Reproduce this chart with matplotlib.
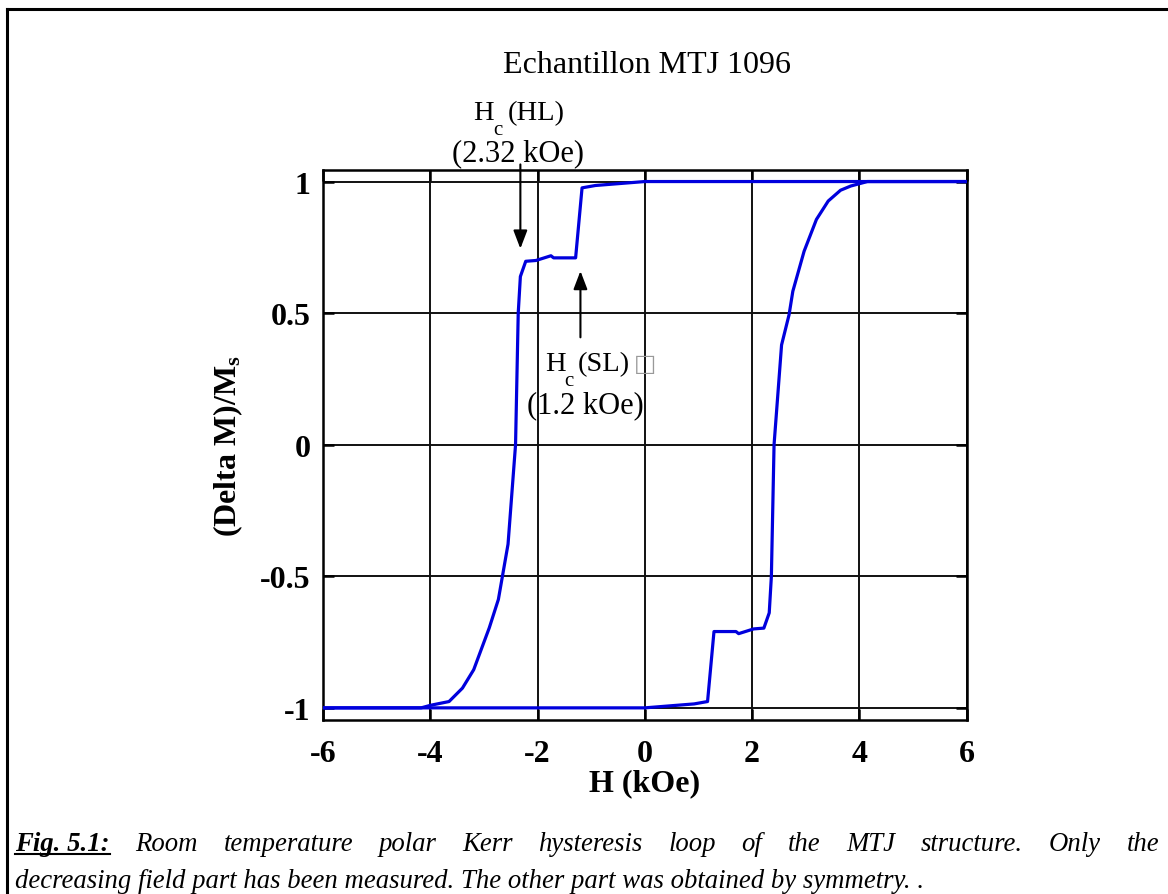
import matplotlib
matplotlib.use('Agg')
import matplotlib.pyplot as plt
from matplotlib.lines import Line2D

plt.rcParams.update({
    'font.family': ['Liberation Serif', 'DejaVu Sans'],
    'mathtext.fontset': 'custom',
    'mathtext.rm': 'Liberation Serif',
    'mathtext.it': 'Liberation Serif:italic',
    'mathtext.bf': 'Liberation Serif:bold',
})

# decreasing field branch (measured)
H_dec = [6, 0, -0.92, -1.17, -1.29, -1.70, -1.75, -2.03, -2.22, -2.32, -2.36,
         -2.41, -2.55, -2.73, -2.90, -3.19, -3.40, -3.65, -3.99, -4.17, -6]
M_dec = [1, 1, 0.985, 0.976, 0.71, 0.71, 0.718, 0.70, 0.697, 0.639, 0.5,
         0.0, -0.378, -0.588, -0.696, -0.855, -0.925, -0.976, -0.99, -1, -1]
# increasing field branch (by symmetry)
H_inc = [-6, 0, 0.92, 1.17, 1.29, 1.70, 1.75, 2.03, 2.22, 2.32, 2.36, 2.41,
         2.55, 2.69, 2.76, 2.97, 3.20, 3.42, 3.65, 3.84, 4.15, 6]
M_inc = [-1, -1, -0.985, -0.976, -0.71, -0.71, -0.718, -0.70, -0.697, -0.639,
         -0.5, 0.0, 0.379, 0.494, 0.583, 0.735, 0.856, 0.926, 0.967, 0.983, 1.0, 1]

x_ticks = [-6, -4, -2, 0, 2, 4, 6]
y_ticks = [-1, -0.5, 0, 0.5, 1]
y_ticklabels = ['-1', '-0.5', '0', '0.5', '1']

W, Hpx = 1168, 895
fig = plt.figure(figsize=(W / 100, Hpx / 100), dpi=100)
ax = fig.add_axes([323 / W, 1 - 720.7 / Hpx, (966.6 - 323) / W, (720.7 - 170.7) / Hpx])

ax.plot(H_dec, M_dec, color='#0000dd', lw=2.3, zorder=3)
ax.plot(H_inc, M_inc, color='#0000dd', lw=2.3, zorder=3)

ax.set_xlim(-6, 6)
ax.set_ylim(-1.045, 1.045)
ax.set_xticks(x_ticks)
ax.set_xticklabels([str(v) for v in x_ticks])
ax.set_yticks(y_ticks)
ax.set_yticklabels(y_ticklabels)
ax.grid(True, color='#111111', lw=1.4)
ax.set_axisbelow(True)
for s in ax.spines.values():
    s.set_linewidth(1.8)
ax.tick_params(direction='in', length=8, width=1.8, top=True, right=True,
               labelsize=23)
ax.tick_params(axis='x', pad=14)
ax.tick_params(axis='y', pad=9)
for lab in ax.get_xticklabels() + ax.get_yticklabels():
    lab.set_fontweight('bold')

ax.set_xlabel('H (kOe)', fontsize=23, fontweight='bold')
ax.xaxis.set_label_coords(0.5, -0.088)
ax.set_ylabel(r'(Delta M)/M$_\mathbf{s}$', fontsize=23, fontweight='bold')
ax.yaxis.set_label_coords(-0.121, 0.5)

fig.text(647 / W, 1 - 73 / Hpx, 'Echantillon MTJ 1096', fontsize=23,
         ha='center', va='baseline')

# coercive field annotations
arrow = dict(arrowstyle='-|>,head_length=1.1,head_width=0.42', color='k', lw=1.5,
             shrinkA=0, shrinkB=0)
ax.annotate('', xy=(-2.32, 0.745), xytext=(-2.32, 1.065), arrowprops=arrow,
            annotation_clip=False)
ax.annotate('', xy=(-1.2, 0.66), xytext=(-1.2, 0.408), arrowprops=arrow)

fs_ann = 20.5
fs_val = 22
fig.text(473 / W, 1 - 120 / Hpx, 'H', fontsize=fs_ann, va='baseline')
fig.text(493 / W, 1 - 135 / Hpx, 'c', fontsize=15, va='baseline')
fig.text(508 / W, 1 - 120 / Hpx, '(HL)', fontsize=fs_ann, va='baseline')
fig.text(517.5 / W, 1 - 161 / Hpx, '(2.32 kOe)', fontsize=fs_val, ha='center', va='baseline')

fig.text(545 / W, 1 - 371 / Hpx, 'H', fontsize=fs_ann, va='baseline')
fig.text(564 / W, 1 - 386 / Hpx, 'c', fontsize=15, va='baseline')
fig.text(578 / W, 1 - 371 / Hpx, '(SL)', fontsize=fs_ann, va='baseline')
fig.text(634 / W, 1 - 371 / Hpx, '\u25a1', fontsize=17, va='baseline', color='#999999',
         family=['DejaVu Sans'])
fig.text(585 / W, 1 - 413 / Hpx, '(1.2 kOe)', fontsize=fs_val, ha='center', va='baseline')

# frame around the figure (left and top edges)
fig.add_artist(Line2D([7 / W, 7 / W], [0, 1 - 10 / Hpx], transform=fig.transFigure,
                      color='k', lw=2.2))
fig.add_artist(Line2D([7 / W, 1], [1 - 10 / Hpx, 1 - 10 / Hpx], transform=fig.transFigure,
                      color='k', lw=2.2))

# caption, first line justified
fs_cap = 19.3
renderer = fig.canvas.get_renderer()
x0, x1 = 15, 1159
base1 = 1 - 851 / Hpx
base2 = 1 - 888 / Hpx
head = fig.text(x0 / W, base1, 'Fig. 5.1:', fontsize=fs_cap, style='italic',
                fontweight='bold', va='baseline')
words = 'Room temperature polar Kerr hysteresis loop of the MTJ structure. Only the'.split()
objs = [fig.text(0, base1, w, fontsize=fs_cap, style='italic', va='baseline') for w in words]
hw = head.get_window_extent(renderer).width
ww = [o.get_window_extent(renderer).width for o in objs]
gap = (x1 - x0 - hw - sum(ww)) / len(words)
fig.add_artist(Line2D([x0 / W, (x0 + hw) / W], [1 - 855 / Hpx, 1 - 855 / Hpx],
                      transform=fig.transFigure, color='k', lw=1.5))
xpos = x0 + hw + gap
for o, w in zip(objs, ww):
    o.set_x(xpos / W)
    xpos += w + gap
fig.text(x0 / W, base2, 'decreasing field part has been measured. The other part was obtained by symmetry. .',
         fontsize=fs_cap, style='italic', va='baseline')

fig.savefig('out.png', dpi=100)
